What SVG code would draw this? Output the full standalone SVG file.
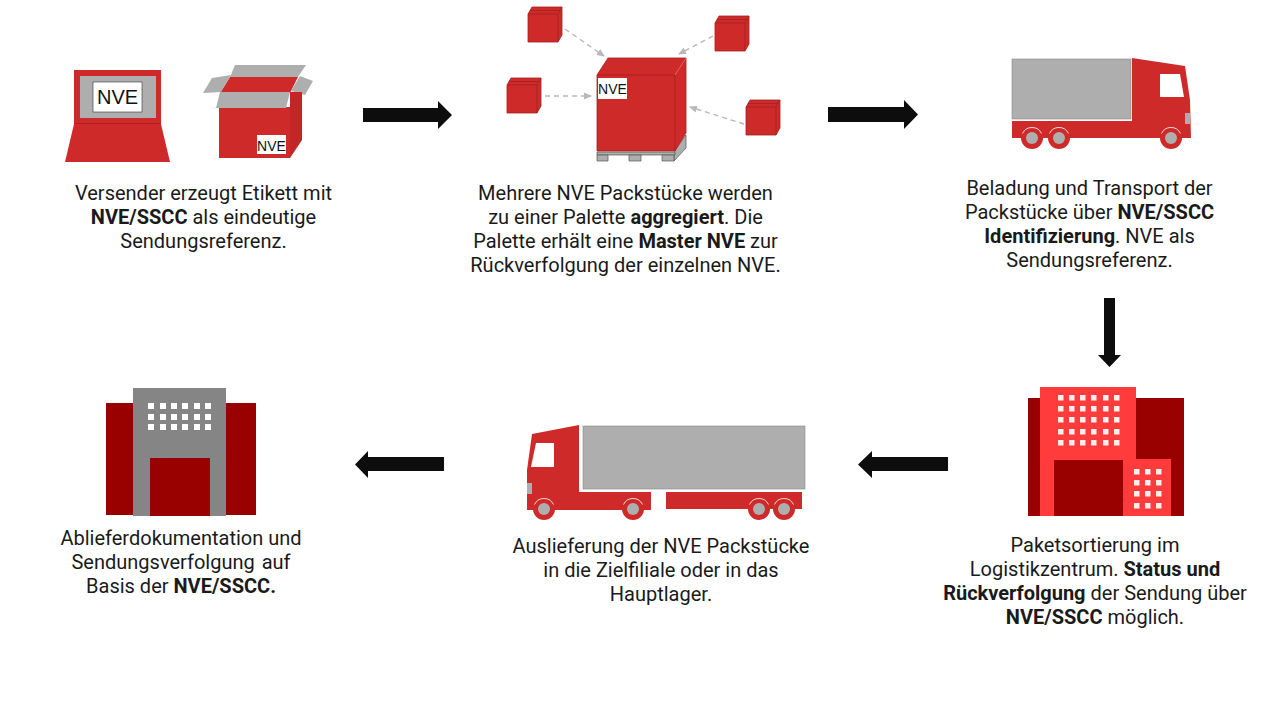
<svg xmlns="http://www.w3.org/2000/svg" width="1280" height="720" viewBox="0 0 1280 720">
<style>
.t{font-family:Roboto,"Liberation Sans",sans-serif;font-size:20px;fill:#1a1a1a;text-anchor:middle}
.b{font-weight:700}
.r{fill:#cf2a2a}
.e{stroke:#a82020;stroke-width:.8}
.g{fill:#aeaeae}
.w{fill:#fff}
.l{font-family:"Liberation Sans",sans-serif;fill:#111;text-anchor:middle}
.dk{fill:#990000}
.dash{fill:none;stroke:#b8b8b8;stroke-width:1.4;stroke-dasharray:5 4;marker-end:url(#ga)}
.win{fill:#fbeeee}
.arrow{fill:#0d0d0d}
.pl{stroke:#555;stroke-width:.7}
</style>
<defs>
<marker id="ga" markerWidth="8" markerHeight="8" refX="7" refY="3.5" orient="auto" markerUnits="userSpaceOnUse" viewBox="0 0 8 7"><path d="M0 0L8 3.5L0 7z" fill="#b8b8b8"/></marker>
<g id="smallbox"><path class="r e" d="M0 7L4 0H34V28L30 35H0z"/><path d="M0 7H30V35M30 7L34 0M2 3.500H32" fill="none" stroke="#a82020" stroke-width=".9"/></g>
<g id="wheel"><circle r="11" class="r"/><path d="M-9.500-4.500A10.500 10.500 0 0 1 9.500-4.500" fill="none" stroke="#fff" stroke-width=".8"/><circle r="6" class="g"/></g>
</defs>

<g id="connectors">
<path class="arrow" d="M363 108H438V101L452 115L438 129V122H363z"/>
<path class="arrow" d="M828 107H904V100L918 114.500L904 129V122H828z"/>
<path class="arrow" d="M1104 298H1115V355H1121L1109.500 367L1098 355H1104z"/>
<path class="arrow" d="M948 457H872V451L858 464.500L872 478V471H948z"/>
<path class="arrow" d="M444 457H368V451L355 464.500L368 478V471H444z"/>
<path class="dash" d="M565 29L604 56"/>
<path class="dash" d="M545 96H591"/>
<path class="dash" d="M713 36L679 54"/>
<path class="dash" d="M744 124L690 107"/>
</g>

<g id="node-sender">
<rect class="r" x="74" y="70" width="87" height="54"/>
<rect class="g" x="80" y="76" width="76" height="42"/>
<rect class="w" x="93" y="82" width="49" height="30" stroke="#333" stroke-width=".6"/>
<text class="l" x="117.500" y="104" font-size="20">NVE</text>
<path class="r" d="M74 124H161L170 162H65z"/>
<path d="M74 123.500H161" stroke="#a82020" stroke-width="1.200"/>
<path class="g" d="M235 65H306L298 77H230z"/>
<path class="r" d="M230 77H298L290 93H220z"/>
<path class="g" d="M203 93L212 78L231 75L221 92zM300 76L313 81L305 95L291 91z"/>
<path class="r" d="M219 107H290V158H219z"/>
<path d="M290 92L302 92V140L290 158z" fill="#c22626"/>
<path class="g" d="M220 92H290L286 108H216z"/>
<rect class="w" x="257" y="135" width="29" height="19"/>
<text class="l" x="271.500" y="150.500" font-size="14">NVE</text>
<text class="t" x="203.500" y="200">Versender erzeugt Etikett mit</text>
<text class="t" x="203.500" y="224"><tspan class="b">NVE/SSCC</tspan> als eindeutige</text>
<text class="t" x="203.500" y="248">Sendungsreferenz.</text>
</g>

<g id="node-pallet">
<use href="#smallbox" x="528" y="7"/>
<use href="#smallbox" x="507" y="78"/>
<use href="#smallbox" x="715" y="16"/>
<use href="#smallbox" x="746" y="100"/>
<path class="g pl" d="M675 150L686 135V148L674 161V155z"/>
<path class="g pl" d="M597 152H675V155H597z"/>
<path class="g pl" d="M597 155H608V161H597zM629 155H641V161H629zM662 155H674V161H662z"/>
<path class="r e" d="M597 75L608 58H686V133L675 151H597z"/>
<path d="M675 75V151M597 75H675" fill="none" stroke="#a82020" stroke-width=".9"/>
<path d="M675 75L686 58" fill="none" stroke="#e06a6a" stroke-width=".9"/>
<rect class="w" x="598" y="78" width="29" height="21"/>
<text class="l" x="612.500" y="94" font-size="14">NVE</text>
<text class="t" x="625.500" y="200">Mehrere NVE Packstücke werden</text>
<text class="t" x="625.500" y="224">zu einer Palette <tspan class="b">aggregiert</tspan>. Die</text>
<text class="t" x="625.500" y="248">Palette erhält eine <tspan class="b">Master NVE</tspan> zur</text>
<text class="t" x="625.500" y="272">Rückverfolgung der einzelnen NVE.</text>
</g>

<g id="node-truck">
<rect class="g" x="1012" y="59" width="119" height="60" stroke="#888" stroke-width=".6"/>
<path class="r" d="M1132 58L1185 66L1190 100L1191 138H1012V121H1132z"/>
<path class="w" d="M1160 74H1180L1184 97H1160z"/>
<rect class="g" x="1185" y="113" width="5" height="11"/>
<use href="#wheel" x="1032" y="138"/>
<use href="#wheel" x="1059" y="138"/>
<use href="#wheel" x="1171" y="138"/>
<text class="t" x="1089.500" y="195">Beladung und Transport der</text>
<text class="t" x="1089.500" y="219">Packstücke über <tspan class="b">NVE/SSCC</tspan></text>
<text class="t" x="1089.500" y="243"><tspan class="b">Identifizierung</tspan>. NVE als</text>
<text class="t" x="1089.500" y="267">Sendungsreferenz.</text>
</g>

<g id="node-sorting">
<rect class="dk" x="1028" y="398" width="156" height="118"/>
<rect x="1040" y="387" width="96" height="129" fill="#ff3b3b"/>
<rect class="dk" x="1054" y="460" width="69" height="56"/>
<rect x="1123" y="459" width="48" height="57" fill="#ff3b3b"/>
<g class="win">
<rect x="1058" y="395" width="5.500" height="5.500"/><rect x="1069" y="395" width="5.500" height="5.500"/><rect x="1080" y="395" width="5.500" height="5.500"/><rect x="1091" y="395" width="5.500" height="5.500"/><rect x="1103" y="395" width="5.500" height="5.500"/><rect x="1114" y="395" width="5.500" height="5.500"/>
<rect x="1058" y="406" width="5.500" height="5.500"/><rect x="1069" y="406" width="5.500" height="5.500"/><rect x="1080" y="406" width="5.500" height="5.500"/><rect x="1091" y="406" width="5.500" height="5.500"/><rect x="1103" y="406" width="5.500" height="5.500"/><rect x="1114" y="406" width="5.500" height="5.500"/>
<rect x="1058" y="417" width="5.500" height="5.500"/><rect x="1069" y="417" width="5.500" height="5.500"/><rect x="1080" y="417" width="5.500" height="5.500"/><rect x="1091" y="417" width="5.500" height="5.500"/><rect x="1103" y="417" width="5.500" height="5.500"/><rect x="1114" y="417" width="5.500" height="5.500"/>
<rect x="1058" y="429" width="5.500" height="5.500"/><rect x="1069" y="429" width="5.500" height="5.500"/><rect x="1080" y="429" width="5.500" height="5.500"/><rect x="1091" y="429" width="5.500" height="5.500"/><rect x="1103" y="429" width="5.500" height="5.500"/><rect x="1114" y="429" width="5.500" height="5.500"/>
<rect x="1058" y="440" width="5.500" height="5.500"/><rect x="1069" y="440" width="5.500" height="5.500"/><rect x="1080" y="440" width="5.500" height="5.500"/><rect x="1091" y="440" width="5.500" height="5.500"/><rect x="1103" y="440" width="5.500" height="5.500"/><rect x="1114" y="440" width="5.500" height="5.500"/>
<rect x="1134" y="469" width="5.500" height="5.500"/><rect x="1145" y="469" width="5.500" height="5.500"/><rect x="1156" y="469" width="5.500" height="5.500"/>
<rect x="1134" y="480" width="5.500" height="5.500"/><rect x="1145" y="480" width="5.500" height="5.500"/><rect x="1156" y="480" width="5.500" height="5.500"/>
<rect x="1134" y="491" width="5.500" height="5.500"/><rect x="1145" y="491" width="5.500" height="5.500"/><rect x="1156" y="491" width="5.500" height="5.500"/>
<rect x="1134" y="503" width="5.500" height="5.500"/><rect x="1145" y="503" width="5.500" height="5.500"/><rect x="1156" y="503" width="5.500" height="5.500"/>
</g>
<text class="t" x="1095" y="552">Paketsortierung im</text>
<text class="t" x="1095" y="576">Logistikzentrum. <tspan class="b">Status und</tspan></text>
<text class="t" x="1095" y="600"><tspan class="b">Rückverfolgung</tspan> der Sendung über</text>
<text class="t" x="1095" y="624"><tspan class="b">NVE/SSCC</tspan> möglich.</text>
</g>

<g id="node-delivery">
<rect class="g" x="583" y="426" width="222" height="63" stroke="#888" stroke-width=".6"/>
<path class="r" d="M579 425L532 434L527 470V510H651V492H579z"/>
<path class="w" d="M536 443H554V467H531z"/>
<rect class="g" x="527" y="483" width="5" height="11"/>
<rect class="r" x="666" y="492" width="136" height="17"/>
<use href="#wheel" x="544" y="509"/>
<use href="#wheel" x="633" y="509"/>
<use href="#wheel" x="759" y="509"/>
<use href="#wheel" x="784" y="509"/>
<text class="t" x="661" y="553">Auslieferung der NVE Packstücke</text>
<text class="t" x="661" y="577">in die Zielfiliale oder in das</text>
<text class="t" x="661" y="601">Hauptlager.</text>
</g>

<g id="node-archive">
<rect class="dk" x="106" y="403" width="150" height="112"/>
<rect x="133" y="388" width="93" height="128" fill="#858585"/>
<rect class="dk" x="150" y="458" width="60" height="58"/>
<g class="w">
<rect x="148" y="403" width="6" height="6"/><rect x="160" y="403" width="6" height="6"/><rect x="171" y="403" width="6" height="6"/><rect x="182" y="403" width="6" height="6"/><rect x="194" y="403" width="6" height="6"/><rect x="205" y="403" width="6" height="6"/>
<rect x="148" y="414" width="6" height="6"/><rect x="160" y="414" width="6" height="6"/><rect x="171" y="414" width="6" height="6"/><rect x="182" y="414" width="6" height="6"/><rect x="194" y="414" width="6" height="6"/><rect x="205" y="414" width="6" height="6"/>
<rect x="148" y="424" width="6" height="6"/><rect x="160" y="424" width="6" height="6"/><rect x="171" y="424" width="6" height="6"/><rect x="182" y="424" width="6" height="6"/><rect x="194" y="424" width="6" height="6"/><rect x="205" y="424" width="6" height="6"/>
</g>
<text class="t" x="181" y="545">Ablieferdokumentation und</text>
<text class="t" x="181" y="569" word-spacing="2">Sendungsverfolgung auf</text>
<text class="t" x="181" y="593">Basis der <tspan class="b">NVE/SSCC.</tspan></text>
</g>
</svg>
